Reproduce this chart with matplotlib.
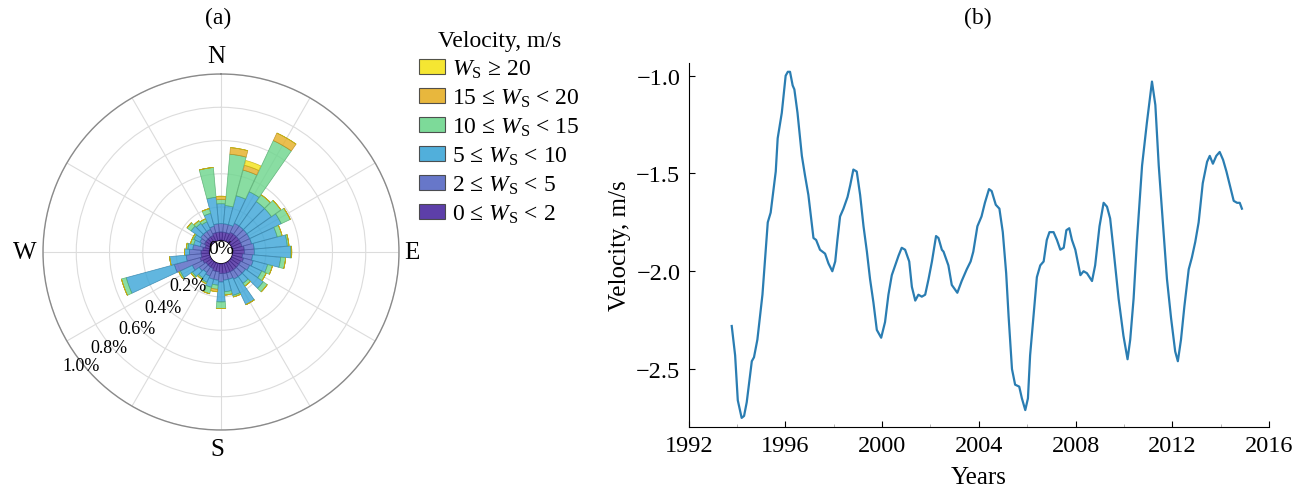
import numpy as np
import matplotlib
matplotlib.use("Agg")
import matplotlib.pyplot as plt
from matplotlib.patches import Patch

plt.rcParams['font.family'] = ['Liberation Serif', 'DejaVu Serif']
plt.rcParams['mathtext.fontset'] = 'custom'
plt.rcParams['mathtext.rm'] = 'Liberation Serif'
plt.rcParams['mathtext.it'] = 'Liberation Serif:italic'
plt.rcParams['mathtext.fallback'] = 'stix'

# ---------------- data: wind rose (percent per 10-degree sector) ----------------
directions = np.arange(0, 360, 10)
bin_labels = [r"0 ≤ $W_\mathrm{S}$ < 2", r"2 ≤ $W_\mathrm{S}$ < 5",
              r"5 ≤ $W_\mathrm{S}$ < 10", r"10 ≤ $W_\mathrm{S}$ < 15",
              r"15 ≤ $W_\mathrm{S}$ < 20", r"$W_\mathrm{S}$ ≥ 20"]
bin_colors = ['#4b2aa0', '#5668c4', '#3ea6d8', '#6fd68e', '#e6b028', '#f4e41c']
edge_colors = ['#3a2080', '#3f4e9a', '#2d7fa8', '#4fa86a', '#b88a1a', '#c0b010']

ws_0_2 = [0.05, 0.05, 0.05, 0.06, 0.06, 0.06, 0.06, 0.06, 0.07, 0.07, 0.06, 0.07,
          0.06, 0.06, 0.06, 0.06, 0.06, 0.06, 0.06, 0.05, 0.05, 0.04, 0.04, 0.04,
          0.05, 0.06, 0.05, 0.05, 0.04, 0.03, 0.04, 0.04, 0.04, 0.04, 0.05, 0.05]
ws_2_5 = [0.05, 0.05, 0.05, 0.06, 0.06, 0.06, 0.06, 0.06, 0.06, 0.06, 0.06, 0.06,
          0.06, 0.05, 0.05, 0.05, 0.04, 0.04, 0.05, 0.05, 0.05, 0.05, 0.04, 0.05,
          0.07, 0.16, 0.09, 0.07, 0.06, 0.03, 0.03, 0.04, 0.04, 0.04, 0.04, 0.05]
ws_5_10 = [0.12, 0.11, 0.18, 0.21, 0.18, 0.18, 0.21, 0.16, 0.20, 0.22, 0.17, 0.09,
           0.08, 0.13, 0.05, 0.17, 0.10, 0.07, 0.12, 0.03, 0.05, 0.04, 0.04, 0.05,
           0.08, 0.30, 0.10, 0.03, 0.03, 0.04, 0.04, 0.07, 0.06, 0.05, 0.08, 0.16]
ws_10_15 = [0.025, 0.31, 0.16, 0.34, 0.05, 0.07, 0.06, 0.03, 0.01, 0.005, 0.03, 0.03,
            0.03, 0.03, 0.02, 0.0, 0.01, 0.02, 0.04, 0.025, 0.04, 0.01, 0.01, 0.01,
            0.01, 0.03, 0.0, 0.0, 0.01, 0.02, 0.01, 0.03, 0.02, 0.02, 0.03, 0.18]
ws_15_20 = [0.02, 0.04, 0.03, 0.05, 0, 0, 0, 0, 0, 0, 0, 0,
            0, 0, 0, 0, 0, 0, 0, 0.015, 0, 0, 0, 0,
            0, 0, 0, 0, 0, 0, 0, 0, 0, 0, 0, 0]
ws_20 = [0, 0, 0.03, 0, 0, 0, 0, 0, 0, 0, 0, 0,
         0, 0, 0, 0, 0, 0, 0, 0, 0, 0, 0, 0,
         0, 0, 0, 0, 0, 0, 0, 0, 0, 0, 0, 0]
rose_bins = [ws_0_2, ws_2_5, ws_5_10, ws_10_15, ws_15_20, ws_20]
r_ticks = [0.2, 0.4, 0.6, 0.8, 1.0]
r_tick_labels = ["0.2%", "0.4%", "0.6%", "0.8%", "1.0%"]

# ---------------- data: velocity time series ----------------
years = [1993.78, 1993.92, 1994.03, 1994.19, 1994.29, 1994.40, 1994.61, 1994.70, 1994.84,
         1995.05, 1995.27, 1995.39, 1995.60, 1995.68, 1995.85, 1996.01, 1996.10, 1996.19,
         1996.30, 1996.37, 1996.50, 1996.68, 1996.81, 1996.95, 1997.16, 1997.27, 1997.43,
         1997.64, 1997.78, 1997.94, 1998.06, 1998.15, 1998.26, 1998.40, 1998.57, 1998.68,
         1998.81, 1998.95, 1999.09, 1999.23, 1999.37, 1999.50, 1999.64, 1999.78, 1999.96,
         2000.12, 2000.26, 2000.40, 2000.54, 2000.68, 2000.81, 2000.95, 2001.12, 2001.23,
         2001.37, 2001.50, 2001.64, 2001.78, 2001.92, 2002.06, 2002.23, 2002.33, 2002.47,
         2002.54, 2002.74, 2002.88, 2003.11, 2003.29, 2003.50, 2003.66, 2003.77, 2003.94,
         2004.11, 2004.25, 2004.42, 2004.53, 2004.70, 2004.85, 2004.99, 2005.13, 2005.23,
         2005.37, 2005.50, 2005.67, 2005.78, 2005.92, 2006.03, 2006.12, 2006.26, 2006.40,
         2006.54, 2006.68, 2006.81, 2006.92, 2007.09, 2007.23, 2007.37, 2007.51, 2007.62,
         2007.74, 2007.85, 2007.99, 2008.20, 2008.33, 2008.47, 2008.68, 2008.81, 2008.99,
         2009.16, 2009.30, 2009.43, 2009.57, 2009.78, 2009.98, 2010.15, 2010.26, 2010.40,
         2010.54, 2010.75, 2010.95, 2011.16, 2011.30, 2011.44, 2011.62, 2011.78, 2011.95,
         2012.12, 2012.23, 2012.36, 2012.50, 2012.68, 2012.81, 2012.95, 2013.09, 2013.26,
         2013.44, 2013.55, 2013.68, 2013.82, 2013.96, 2014.10, 2014.24, 2014.40, 2014.54,
         2014.68, 2014.79, 2014.88]
velocity = [-2.28, -2.43, -2.66, -2.75, -2.74, -2.67, -2.46, -2.44, -2.35,
            -2.12, -1.75, -1.70, -1.49, -1.32, -1.19, -1.00, -0.98, -0.98,
            -1.05, -1.07, -1.19, -1.41, -1.51, -1.61, -1.83, -1.84, -1.89,
            -1.91, -1.96, -2.00, -1.95, -1.84, -1.72, -1.68, -1.62, -1.56,
            -1.48, -1.49, -1.61, -1.77, -1.90, -2.04, -2.16, -2.30, -2.34,
            -2.26, -2.12, -2.02, -1.97, -1.92, -1.88, -1.89, -1.95, -2.08,
            -2.15, -2.12, -2.13, -2.12, -2.04, -1.95, -1.82, -1.83, -1.89,
            -1.90, -1.97, -2.07, -2.11, -2.05, -1.99, -1.95, -1.90, -1.77,
            -1.72, -1.65, -1.58, -1.59, -1.66, -1.68, -1.80, -2.01, -2.23,
            -2.50, -2.58, -2.59, -2.65, -2.71, -2.65, -2.43, -2.23, -2.03,
            -1.97, -1.95, -1.84, -1.80, -1.80, -1.84, -1.89, -1.88, -1.79,
            -1.78, -1.84, -1.89, -2.02, -2.00, -2.01, -2.05, -1.97, -1.77,
            -1.65, -1.67, -1.73, -1.89, -2.14, -2.33, -2.45, -2.35, -2.14,
            -1.84, -1.46, -1.24, -1.03, -1.15, -1.46, -1.77, -2.04, -2.24,
            -2.41, -2.46, -2.35, -2.18, -1.99, -1.93, -1.85, -1.75, -1.55,
            -1.44, -1.41, -1.45, -1.41, -1.39, -1.43, -1.49, -1.57, -1.64,
            -1.65, -1.65, -1.68]
x_ticks = [1992, 1996, 2000, 2004, 2008, 2012, 2016]
y_ticks = [-2.5, -2.0, -1.5, -1.0]

# ---------------- figure ----------------
W, H = 1305, 489
fig = plt.figure(figsize=(W / 100, H / 100), dpi=100)

# polar wind rose
cx, cy, R = 221, 253, 178
axp = fig.add_axes([(cx - R) / W, (H - cy - R) / H, 2 * R / W, 2 * R / H], projection='polar')
axp.set_theta_zero_location('N')
axp.set_theta_direction(-1)
axp.set_ylim(0, 1.0)
axp.set_rorigin(-0.0703)
theta = np.deg2rad(directions)
width = np.deg2rad(10) * 0.97
bottom = np.zeros(len(directions))
for vals, col, ec in zip(rose_bins, bin_colors, edge_colors):
    vals = np.array(vals, dtype=float)
    axp.bar(theta, vals, width=width, bottom=bottom, color=col, alpha=0.82,
            edgecolor=ec, linewidth=0.5, zorder=3)
    bottom += vals
axp.set_ylim(0, 1.0)
axp.set_thetagrids(np.arange(0, 360, 30), labels=[''] * 12)
axp.set_rgrids(r_ticks, labels=[''] * len(r_ticks))
axp.grid(color='#dcdcdc', linewidth=0.8)
axp.spines['polar'].set_color('#8a8a8a')
axp.spines['polar'].set_linewidth(1.0)
for t, lab in zip(r_ticks, r_tick_labels):
    axp.text(np.deg2rad(223 + 8 * t), t + 0.015, lab, ha='center', va='center',
             fontsize=13, zorder=5)
axp.text(0.5, 0.51, "0%", transform=axp.transAxes, ha='center', va='center', fontsize=14, zorder=5)
for lab, (tx, ty) in zip(["N", "E", "S", "W"],
                         [(0.486, 1.05), (1.037, 0.5), (0.49, -0.053), (-0.051, 0.5)]):
    axp.text(tx, ty, lab, transform=axp.transAxes, ha='center', va='center', fontsize=18)

fig.text(218 / W, 1 - 18 / H, "(a)", ha='center', va='center', fontsize=17)
fig.text(978 / W, 1 - 18 / H, "(b)", ha='center', va='center', fontsize=17)

handles = [Patch(facecolor=c, edgecolor='#404040', linewidth=0.8, alpha=0.9)
           for c in bin_colors[::-1]]
leg = fig.legend(handles, bin_labels[::-1], title="Velocity, m/s", loc='upper left',
                 bbox_to_anchor=(405 / W, 1 - 17 / H), frameon=False, fontsize=17,
                 title_fontsize=17, handlelength=1.1, handleheight=0.6, handletextpad=0.3,
                 labelspacing=0.28, borderpad=0.1)

# time series
x0, x1, yb, yt = 688.7, 1269, 427.7, 64
axl = fig.add_axes([x0 / W, (H - yb) / H, (x1 - x0) / W, (yb - yt) / H])
axl.plot(years, velocity, color='#2a7db2', linewidth=1.6)
axl.set_xlim(1992, 2016)
axl.set_ylim(-2.795, -0.935)
axl.set_xticks(x_ticks)
axl.set_yticks(y_ticks)
axl.set_yticklabels([f"\u2212{abs(v):.1f}" for v in y_ticks])
axl.set_xticks(np.arange(1994, 2016, 4), minor=True)
axl.spines['top'].set_visible(False)
axl.spines['right'].set_visible(False)
axl.tick_params(direction='in', labelsize=17.5, length=4, width=0.8, pad=6)
axl.tick_params(which='minor', direction='in', length=2, width=0.6, color='#aaaaaa')
axl.set_ylabel("Velocity, m/s", fontsize=18, labelpad=4)
axl.set_xlabel("Years", fontsize=18, labelpad=7)

fig.savefig("out.png", dpi=100)
